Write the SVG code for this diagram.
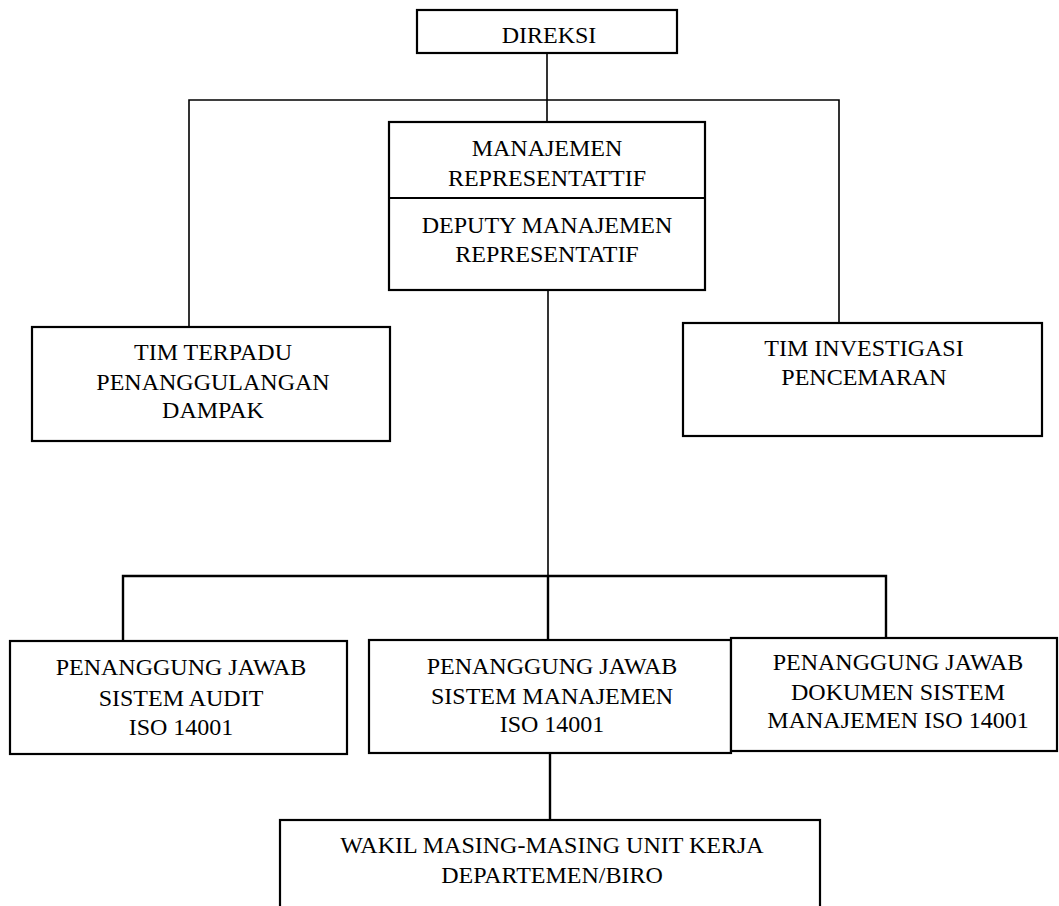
<svg xmlns="http://www.w3.org/2000/svg" width="1059" height="906" viewBox="0 0 1059 906">
<style>
.box{fill:#fff;stroke:#000;stroke-width:2.2}
.ln{fill:none;stroke:#000;stroke-width:1.6}
.lnb{fill:none;stroke:#000;stroke-width:2.4}
text{font-family:"Liberation Serif","Times New Roman",serif;font-size:24px;fill:#000;text-anchor:middle}
</style>
<rect width="1059" height="906" fill="#fff"/>
<g id="connectors">
<path class="ln" d="M547,53 V122"/>
<path class="ln" d="M189,328 V100 H839 V324"/>
<path class="ln" d="M548,290 V575"/>
<path class="lnb" d="M123,641 V576 H886 V639"/>
<path class="lnb" d="M548,575 V640"/>
<path class="lnb" d="M550,753 V820"/>
</g>
<g id="direksi">
<rect class="box" x="417" y="10" width="260" height="43"/>
<text x="549" y="43">DIREKSI</text>
</g>
<g id="mr">
<rect class="box" x="389" y="122" width="316" height="168"/>
<line x1="389" y1="198" x2="705" y2="198" stroke="#000" stroke-width="2.2"/>
<text x="547" y="156">MANAJEMEN</text>
<text x="547" y="186">REPRESENTATTIF</text>
<text x="547" y="233">DEPUTY MANAJEMEN</text>
<text x="547" y="262">REPRESENTATIF</text>
</g>
<g id="tim-terpadu">
<rect class="box" x="32" y="327" width="358" height="114"/>
<text x="213" y="360">TIM TERPADU</text>
<text x="213" y="390">PENANGGULANGAN</text>
<text x="213" y="418">DAMPAK</text>
</g>
<g id="tim-investigasi">
<rect class="box" x="683" y="323" width="359" height="113"/>
<text x="864" y="356">TIM INVESTIGASI</text>
<text x="864" y="385">PENCEMARAN</text>
</g>
<g id="pj-audit">
<rect class="box" x="10" y="641" width="337" height="113"/>
<text x="181" y="675">PENANGGUNG JAWAB</text>
<text x="181" y="706">SISTEM AUDIT</text>
<text x="181" y="735">ISO 14001</text>
</g>
<g id="pj-sistem">
<rect class="box" x="369" y="640" width="362" height="113"/>
<text x="552" y="674">PENANGGUNG JAWAB</text>
<text x="552" y="704">SISTEM MANAJEMEN</text>
<text x="552" y="732">ISO 14001</text>
</g>
<g id="pj-dokumen">
<rect class="box" x="731" y="638" width="326" height="113"/>
<text x="898" y="670">PENANGGUNG JAWAB</text>
<text x="898" y="700">DOKUMEN SISTEM</text>
<text x="898" y="728">MANAJEMEN ISO 14001</text>
</g>
<g id="wakil">
<rect class="box" x="280" y="820" width="540" height="110"/>
<text x="552" y="853">WAKIL MASING-MASING UNIT KERJA</text>
<text x="552" y="883">DEPARTEMEN/BIRO</text>
</g>
</svg>
